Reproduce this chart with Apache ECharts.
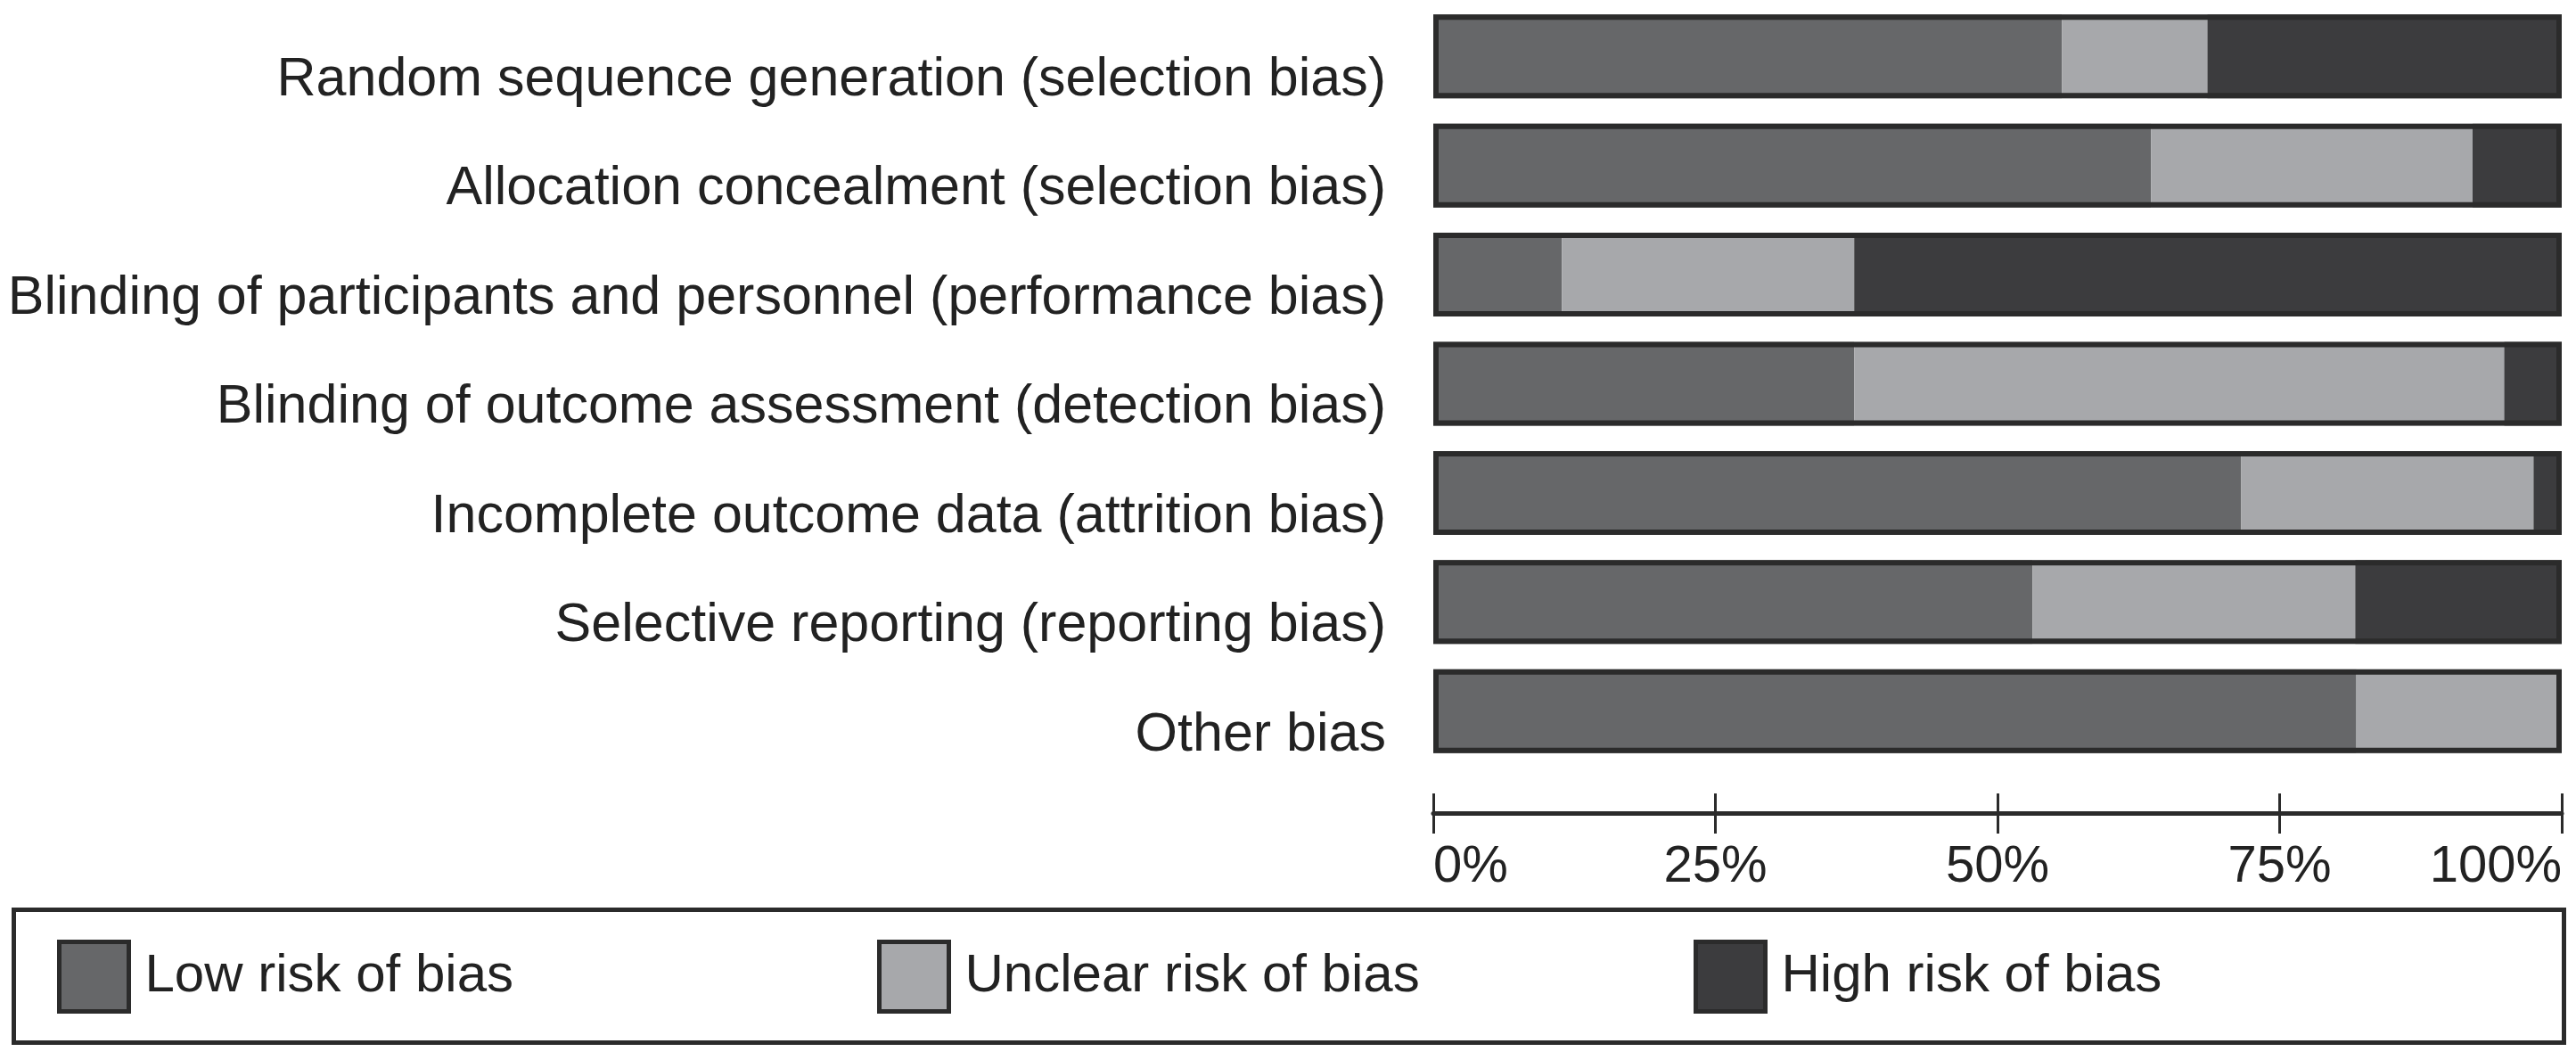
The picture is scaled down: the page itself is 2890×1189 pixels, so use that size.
<!DOCTYPE html>
<html>
<head>
<meta charset="utf-8">
<script src="https://cdn.jsdelivr.net/npm/echarts@6/dist/echarts.min.js"></script>
<style>
html,body{margin:0;padding:0;background:#fff;}
#chart{width:2890px;height:1189px;}
</style>
</head>
<body>
<div id="chart"></div>
<script>
const categories = [
  'Random sequence generation (selection bias)',
  'Allocation concealment (selection bias)',
  'Blinding of participants and personnel (performance bias)',
  'Blinding of outcome assessment (detection bias)',
  'Incomplete outcome data (attrition bias)',
  'Selective reporting (reporting bias)',
  'Other bias'
];
const lowRisk     = [55.7, 63.6, 11.4, 37.3, 71.6, 53.1, 81.8];
const unclearRisk = [12.9, 28.5, 25.9, 57.6, 25.9, 28.6, 18.2];
const highRisk    = [31.4,  7.9, 62.7,  5.1,  2.5, 18.3,  0.0];
const totals      = [100, 100, 100, 100, 100, 100, 100];
const seriesNames = ['Low risk of bias', 'Unclear risk of bias', 'High risk of bias'];
const xTicks = [0, 25, 50, 75, 100];

const FONT = '"Liberation Sans", Arial, sans-serif';
const DARK = '#2b2b2b';
const BAR_W = 94;
const legendLefts = [64, 984, 1900];

const chart = echarts.init(document.getElementById('chart'));
const xBase = {
  type: 'value', min: xTicks[0], max: xTicks[xTicks.length - 1], interval: xTicks[1] - xTicks[0],
  position: 'bottom', offset: 53, splitLine: { show: false }
};
const legends = seriesNames.map((name, i) => ({
  data: [name],
  left: legendLefts[i], top: 1054,
  padding: 0,
  icon: 'rect', itemWidth: 78, itemHeight: 78,
  itemStyle: { borderColor: DARK, borderWidth: 5 },
  textStyle: { fontSize: 60, color: '#222', fontFamily: FONT, padding: [14, 0, 0, 13] },
  selectedMode: false
}));

chart.setOption({
  animation: false,
  backgroundColor: '#ffffff',
  textStyle: { fontFamily: FONT },
  grid: { left: 1608, right: 16, top: 2, height: 857, containLabel: false },
  xAxis: [
    Object.assign({}, xBase, {
      axisLine: { show: true, lineStyle: { color: DARK, width: 5 } },
      axisTick: { show: true, length: 23, lineStyle: { color: DARK, width: 3 } },
      axisLabel: {
        formatter: '{value}%', fontSize: 58, color: '#222', fontFamily: FONT, margin: 32,
        alignMinLabel: 'left', alignMaxLabel: 'right'
      }
    }),
    Object.assign({}, xBase, {
      axisLine: { show: false },
      axisTick: { show: true, inside: true, length: 22, lineStyle: { color: DARK, width: 3 } },
      axisLabel: { show: false }
    })
  ],
  yAxis: {
    type: 'category', data: categories, inverse: true,
    axisLine: { show: false }, axisTick: { show: false }, splitLine: { show: false },
    axisLabel: { fontSize: 61, color: '#222', fontFamily: FONT, margin: 53,
      verticalAlign: 'top', lineHeight: 54 }
  },
  legend: legends,
  graphic: [{
    type: 'rect', silent: true,
    shape: { x: 15.5, y: 1020.5, width: 2861, height: 149 },
    style: { fill: 'none', stroke: DARK, lineWidth: 5 }
  }],
  series: [
    { name: seriesNames[0], type: 'bar', stack: 'risk', barWidth: BAR_W, barGap: '-100%', data: lowRisk,
      itemStyle: { color: '#666769' }, silent: true },
    { name: seriesNames[1], type: 'bar', stack: 'risk', barWidth: BAR_W, barGap: '-100%', data: unclearRisk,
      itemStyle: { color: '#a7a8ab' }, silent: true },
    { name: seriesNames[2], type: 'bar', stack: 'risk', barWidth: BAR_W, barGap: '-100%', data: highRisk,
      itemStyle: { color: '#3c3c3e' }, silent: true },
    { name: 'frame', type: 'bar', barWidth: BAR_W, barGap: '-100%', data: totals, z: 5,
      itemStyle: { color: 'rgba(0,0,0,0)', borderColor: DARK, borderWidth: 6 }, silent: true }
  ]
});
</script>
</body>
</html>
